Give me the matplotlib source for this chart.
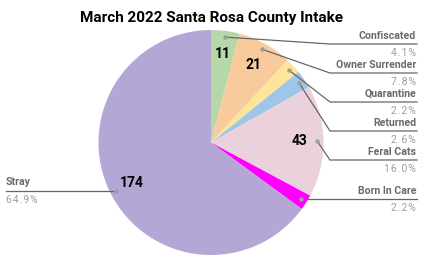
import matplotlib
matplotlib.use("Agg")
import matplotlib.pyplot as plt
import numpy as np

plt.rcParams['font.family'] = ['Roboto', 'DejaVu Sans']

title = "March 2022 Santa Rosa County Intake"
categories = ["Confiscated", "Owner Surrender", "Quarantine", "Returned",
              "Feral Cats", "Born In Care", "Stray"]
values = [11, 21, 6, 7, 43, 6, 174]
colors = ["#b6d7a8", "#f9cb9c", "#ffe599", "#9fc5e8", "#ead1dc", "#ff00ff", "#b4a7d6"]

W, H = 423, 261
fig = plt.figure(figsize=(W / 100, H / 100), dpi=100)
ax = fig.add_axes([0, 0, 1, 1])

def py(y):
    return H - y

cx, cy, R = 211, 142.5, 112.5
total = sum(values)

wedges, texts, autotexts = ax.pie(
    values, colors=colors, startangle=90, counterclock=False,
    center=(cx, py(cy)), radius=R,
    autopct=lambda p: f"{round(p * total / 100)}" if p > 3 else "",
    pctdistance=0.79,
    wedgeprops=dict(linewidth=0),
    textprops=dict(fontsize=10, fontweight='bold', color='#000000'),
)
ax.set_xlim(0, W)
ax.set_ylim(0, H)
ax.set_aspect('auto')
ax.axis('off')

# leader layout (pixel rows from top)
line_y = [44, 73, 102, 131, 160, 199]
elbow_x = 330
right_x = 417
line_col = '#666666'
name_col = '#6a6a6a'
pct_col = '#9e9e9e'

def spaced(s):
    return "\u200a".join(s)

for i, w in enumerate(wedges):
    mid = np.deg2rad((w.theta1 + w.theta2) / 2)
    dx = cx + 0.945 * R * np.cos(mid)
    dy = py(cy) + 0.945 * R * np.sin(mid)
    ax.plot([dx], [dy], 'o', ms=3.2, color='#9e9e9e', mec='none', zorder=5)
    pct = f"{values[i] / total * 100:.1f}%"
    if i < len(line_y):
        ly = py(line_y[i])
        if abs(ly - dy) > 2:
            ax.plot([dx, elbow_x, right_x], [dy, ly, ly], color=line_col, lw=0.9, zorder=4)
        else:
            ax.plot([dx, right_x], [ly, ly], color=line_col, lw=0.9, zorder=4)
        ax.text(right_x - 1, ly + 3.2, categories[i], ha='right', va='bottom',
                fontsize=7.6, fontweight='semibold', color=name_col)
        ax.text(right_x - 1, ly - 4, spaced(pct), ha='right', va='top',
                fontsize=7.5, color=pct_col)
    else:
        ly = dy
        ax.plot([6, dx], [ly, ly], color=line_col, lw=0.9, zorder=4)
        ax.text(6, ly + 3.2, categories[i], ha='left', va='bottom',
                fontsize=7.6, fontweight='semibold', color=name_col)
        ax.text(6, ly - 4, spaced(pct), ha='left', va='top',
                fontsize=7.5, color=pct_col)

fig.text(212 / W, 1 - 18 / H, title, ha='center', va='center',
         fontsize=11, fontweight='bold', color='#000000')

fig.savefig("out.png", dpi=100)
